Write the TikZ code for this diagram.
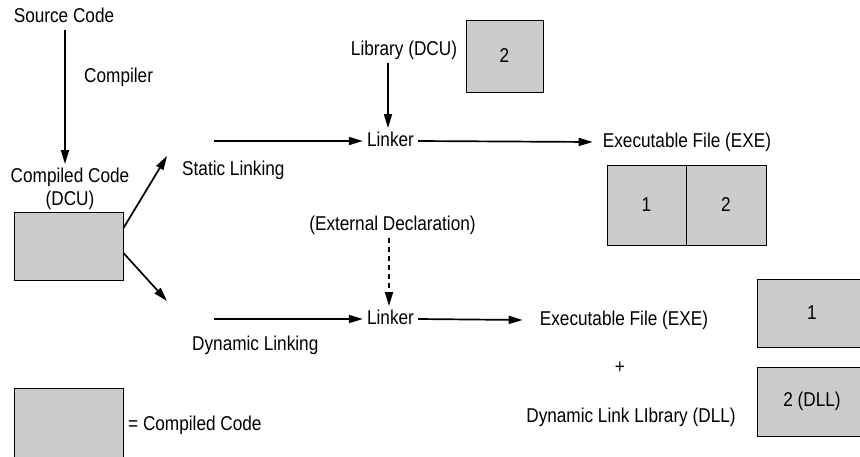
\documentclass[tikz,border=0pt]{standalone}
\usepackage{fontspec}
\setmainfont{Liberation Sans}[FakeStretch=0.86]
\usetikzlibrary{arrows.meta}
\definecolor{boxgray}{HTML}{CCCCCC}
\begin{document}
\begin{tikzpicture}[x=1pt,y=-1pt,
  lbl/.style={font=\fontsize{20}{24}\selectfont, inner sep=4pt, text height=14pt, text depth=3.5pt},
  gbox/.style={draw=black, line width=1pt, fill=boxgray, inner sep=0pt,
    font=\fontsize{20}{24}\selectfont},
  arr/.style={-{Triangle[length=14pt,width=8pt]}, line width=1.7pt}]
\useasboundingbox (0,0) rectangle (860,456);
\clip (0,0) rectangle (860,456);

% compile stage
\node[lbl] (src) at (64,17) {Source Code};
\node[lbl,anchor=west] (comp) at (80,77) {Compiler};
\node[lbl] (cc1) at (70,177) {Compiled Code};
\node[lbl] (cc2) at (70,200) {(DCU)};
\node[gbox,minimum width=109pt,minimum height=68pt] (ccbox) at (68.5,246) {};
\draw[arr] ([xshift=1pt]src.south) -- ([xshift=1pt]src.south |- cc1.north);

% branches
\coordinate (sl) at (167,156);
\coordinate (dl) at (167,301);
\draw[arr] ([yshift=18pt]ccbox.east) -- (sl);
\draw[arr] ([yshift=-7pt]ccbox.east) -- (dl);
\node[lbl,anchor=west] (stat) at (178,170) {Static Linking};
\node[lbl,anchor=west] (dyn) at (188,345) {Dynamic Linking};

% static linking row
\coordinate (t0) at (214,141);
\node[lbl] (link1) at (390.5,141) {Linker};
\draw[arr] (t0) -- (link1.west);
\node[lbl] (lib) at (404,50) {Library (DCU)};
\node[gbox,minimum width=77pt,minimum height=72pt] (libbox) at (504.5,56) {2};
\draw[arr] ([xshift=-2.5pt]lib.south -| link1.north) -- ([xshift=-2.5pt]link1.north);
\node[lbl] (exe1) at (687,142) {Executable File (EXE)};
\draw[arr] (link1.east) -- ([xshift=-6pt]exe1.west);
\node[gbox,minimum width=79pt,minimum height=80pt] (cell1) at (646.5,205) {1};
\node[gbox,minimum width=80pt,minimum height=80pt] (cell2) at (726,205) {2};

% dynamic linking row
\node[lbl] (ext) at (392.5,225) {(External Declaration)};
\coordinate (b0) at (214,319);
\node[lbl] (link2) at (390.5,319) {Linker};
\draw[arr,dash pattern=on 5pt off 4pt] ([xshift=-1.5pt]ext.south -| link2.north) -- ([xshift=-1.5pt]link2.north);
\draw[arr] (b0) -- (link2.west);
\node[lbl] (exe2) at (624,320) {Executable File (EXE)};
\draw[arr] (link2.east) -- ([xshift=-13pt]exe2.west);
\node[lbl] (plus) at (620,368) {+};
\node[lbl] (dll) at (631,417) {Dynamic Link LIbrary (DLL)};
\node[gbox,minimum width=110pt,minimum height=68pt] (box1) at (812,313) {1};
\node[gbox,minimum width=110pt,minimum height=69pt] (box2) at (812,401.5) {2 (DLL)};

% legend
\node[gbox,minimum width=109pt,minimum height=92pt] (legbox) at (68.5,434) {};
\node[lbl,anchor=west] (eq) at (124,425) {= Compiled Code};
\end{tikzpicture}
\end{document}
